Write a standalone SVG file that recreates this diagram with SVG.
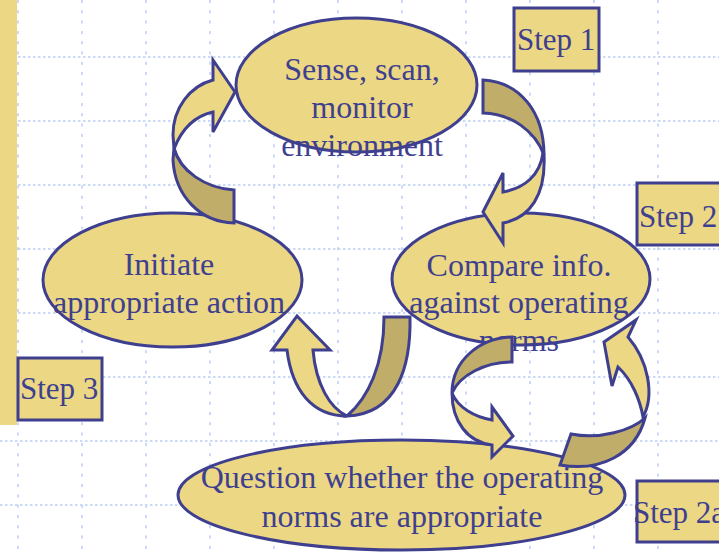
<svg xmlns="http://www.w3.org/2000/svg" width="719" height="552" viewBox="0 0 719 552">
  <style>
    .gh { stroke: #cbd9f6; stroke-width: 2; stroke-dasharray: 2.5 2.5; fill: none; }
    .gv { stroke: #cbd9f6; stroke-width: 2; stroke-dasharray: 3 7.3; fill: none; }
    .node { fill: #ebd784; stroke: #3f3f8f; stroke-width: 3; }
    .box { fill: #ebd784; stroke: #3f3f8f; stroke-width: 3; }
    .lbl { font-family: "Liberation Serif", "Times New Roman", serif; font-size: 32px; fill: #3f3f8f; text-anchor: middle; }
    .step { font-family: "Liberation Serif", "Times New Roman", serif; font-size: 31px; fill: #3f3f8f; }
    .front { fill: #ebd784; stroke: #3f3f8f; stroke-width: 3; stroke-linejoin: miter; }
    .back { fill: #bfad69; stroke: #3f3f8f; stroke-width: 3; stroke-linejoin: miter; }
  </style>

  <rect width="719" height="552" fill="#ffffff"/>

  <!-- dotted background grid -->
  <g id="grid">
    <path class="gh" d="M18 57H719M18 121H719M18 185H719M18 249H719M18 313H719M18 377H719M0 441H719M0 505H719"/>
    <path class="gv" d="M18 0V552M82 0V552M146 0V552M210 0V552M274 0V552M338 0V552M402 0V552M466 0V552M530 0V552M594 0V552M658 0V552"/>
  </g>

  <!-- left accent bar -->
  <rect x="0" y="0" width="17" height="425" fill="#ebd784"/>

  <!-- process nodes -->
  <g id="sense">
    <ellipse class="node" cx="356.5" cy="85" rx="120.5" ry="67"/>
    <text class="lbl" x="362" y="80">Sense, scan,</text>
    <text class="lbl" x="362" y="118">monitor</text>
    <text class="lbl" x="362" y="156">environment</text>
  </g>

  <g id="initiate">
    <ellipse class="node" cx="172.5" cy="280" rx="129.5" ry="67"/>
    <text class="lbl" x="169" y="275">Initiate</text>
    <text class="lbl" x="169" y="313">appropriate action</text>
  </g>

  <g id="compare">
    <ellipse class="node" cx="521" cy="279" rx="129" ry="66"/>
    <text class="lbl" x="519" y="276">Compare info.</text>
    <text class="lbl" x="519" y="313">against operating</text>
    <text class="lbl" x="519" y="351">norms</text>
  </g>

  <g id="question">
    <ellipse class="node" cx="401.5" cy="495" rx="223.5" ry="55"/>
    <text class="lbl" x="402" y="488">Question whether the operating</text>
    <text class="lbl" x="402" y="527">norms are appropriate</text>
  </g>

  <!-- step tags -->
  <g id="step1">
    <rect class="box" x="514" y="8" width="85" height="63"/>
    <text class="step" x="517" y="50">Step 1</text>
  </g>
  <g id="step2">
    <rect class="box" x="637" y="183" width="90" height="62"/>
    <text class="step" x="639" y="227">Step 2</text>
  </g>
  <g id="step3">
    <rect class="box" x="18" y="358" width="84" height="62"/>
    <text class="step" x="20" y="399">Step 3</text>
  </g>
  <g id="step2a">
    <rect class="box" x="637" y="481" width="90" height="61"/>
    <text class="step" x="633" y="523">Step 2a</text>
  </g>

  <!-- curved ribbon arrows between nodes -->
  <g id="connectors">
    <!-- initiate -> sense -->
    <path class="back" d="M234 190C205 188 180 171 174 148L173 160C175 196 200 222 234 223Z"/>
    <path class="front" d="M213 80C190 86 173 108 173 135L174 149C182 128 195 116 213 112L213 132L235 92L213 60Z"/>

    <!-- sense -> compare -->
    <path class="back" d="M483 80C520 82 544 112 544 155C535 131 512 114 483 113Z"/>
    <path class="front" d="M543 153C540 175 525 188 503 192L503 173L483 212L503 243L503 223C530 218 546 195 544 155Z"/>

    <!-- compare -> initiate -->
    <path class="back" d="M384 317L410 317C411 365 398 414 347 416C368 398 384 365 384 317Z"/>
    <path class="front" d="M287 350C292 390 312 416 347 416C330 408 316 385 313 350L330 350L297 316L272 350Z"/>

    <!-- compare -> question -->
    <path class="back" d="M512 337C480 338 452 360 452 393C460 375 485 362 512 362Z"/>
    <path class="front" d="M452 393C458 408 475 417 492 420L492 407L513 436L492 457L492 445C468 442 452 422 452 393Z"/>

    <!-- question -> compare -->
    <path class="back" d="M571 434L560 465C600 472 635 455 645 418C632 430 600 440 571 434Z"/>
    <path class="front" d="M628 337C648 360 655 395 643 417C640 400 632 380 618 367L612 386L604 342L636 320Z"/>
  </g>
</svg>
